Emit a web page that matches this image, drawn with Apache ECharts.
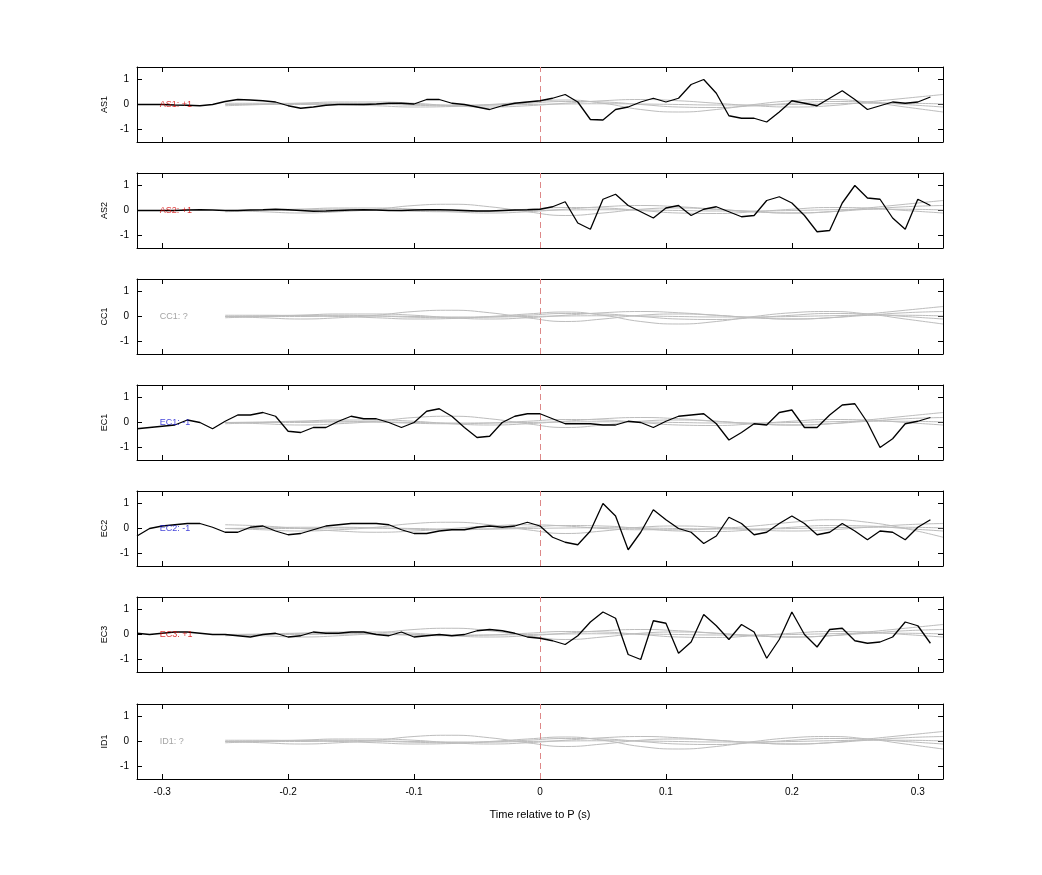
<!DOCTYPE html>
<html style="height: 100%">
<head>
    <meta charset="utf-8">
</head>
<body style="height: 100%; margin: 0; background: #fff">
<div id="container" style="width: 1042px; height: 875px"></div>
<script type="text/javascript" src="https://cdn.jsdelivr.net/npm/echarts@6/dist/echarts.min.js"></script>
<script type="text/javascript">
    // black trace sampled every 0.01 s from -0.32 to 0.31
    var blackT = [];
    for (var k = 0; k < 64; k++) blackT.push(+(-0.32 + k * 0.01).toFixed(2));
    // gray traces sampled every 0.03 s from -0.25 to 0.32
    var grayT = [];
    for (var k = 0; k < 20; k++) grayT.push(+(-0.25 + k * 0.03).toFixed(2));

    var stations = ["AS1", "AS2", "CC1", "EC1", "EC2", "EC3", "ID1"];
    var polarity = ["+1", "+1", "?", "-1", "-1", "+1", "?"];
    var labelColors = ["#d40000", "#d40000", "#8c8c8c", "#1010d0", "#1010d0", "#d40000", "#8c8c8c"];

    var AS1 = [0, 0, 0, -0.02, -0.03, -0.05, 0, 0.12, 0.2, 0.18, 0.15, 0.1, -0.05, -0.15, -0.1, -0.03,
        0, 0, 0, 0.02, 0.05, 0.05, 0.02, 0.2, 0.2, 0.05, 0, -0.1, -0.2, -0.05, 0.05, 0.1,
        0.15, 0.25, 0.4, 0.1, -0.6, -0.62, -0.2, -0.1, 0.1, 0.25, 0.1, 0.25, 0.8, 1.0, 0.45, -0.45,
        -0.55, -0.55, -0.7, -0.3, 0.15, 0.05, -0.05, 0.25, 0.55, 0.2, -0.2, -0.05, 0.1, 0.05, 0.1, 0.3];
    var AS2 = [0, 0, 0, 0, 0.02, 0.03, 0.02, 0, 0, 0.02, 0.03, 0.05, 0.03, 0, -0.03, -0.02,
        0, 0.02, 0.03, 0.02, 0, 0, 0.02, 0.03, 0.03, 0.02, 0, -0.02, -0.02, 0, 0.02, 0.03,
        0.05, 0.15, 0.35, -0.5, -0.75, 0.45, 0.65, 0.2, -0.05, -0.3, 0.1, 0.2, -0.2, 0.05, 0.15, -0.05,
        -0.25, -0.2, 0.4, 0.55, 0.3, -0.2, -0.85, -0.8, 0.3, 1.0, 0.5, 0.45, -0.3, -0.75, 0.45, 0.2];
    var EC1 = [-0.25, -0.2, -0.15, -0.1, 0.1, 0, -0.25, 0.05, 0.3, 0.3, 0.4, 0.25, -0.35, -0.4, -0.2, -0.2,
        0.05, 0.25, 0.15, 0.15, 0, -0.2, 0, 0.45, 0.55, 0.25, -0.2, -0.6, -0.55, 0, 0.25, 0.35,
        0.35, 0.15, -0.05, -0.05, -0.05, -0.1, -0.1, 0.05, 0, -0.2, 0.05, 0.25, 0.3, 0.35, -0.05, -0.7,
        -0.4, -0.05, -0.1, 0.4, 0.5, -0.2, -0.2, 0.3, 0.7, 0.75, 0, -1.0, -0.65, -0.05, 0.05, 0.2];
    var EC2 = [-0.3, 0, 0.1, 0.15, 0.2, 0.2, 0.05, -0.15, -0.15, 0.05, 0.1, -0.1, -0.25, -0.2, -0.05, 0.1,
        0.15, 0.2, 0.2, 0.2, 0.15, -0.05, -0.2, -0.2, -0.1, -0.05, -0.05, 0.05, 0.1, 0.05, 0.1, 0.25,
        0.1, -0.35, -0.55, -0.65, -0.1, 1.0, 0.5, -0.85, -0.15, 0.75, 0.35, 0, -0.15, -0.6, -0.3, 0.45,
        0.2, -0.25, -0.15, 0.2, 0.5, 0.2, -0.25, -0.15, 0.2, -0.1, -0.45, -0.1, -0.15, -0.45, 0.05, 0.35];
    var EC3 = [0.05, 0, 0.05, 0.1, 0.1, 0.05, 0, 0, -0.05, -0.1, 0, 0.05, -0.1, -0.05, 0.1, 0.05,
        0.05, 0.1, 0.1, 0, -0.05, 0.1, -0.1, -0.05, 0, -0.05, 0, 0.15, 0.2, 0.15, 0.05, -0.1,
        -0.15, -0.25, -0.4, -0.05, 0.5, 0.9, 0.65, -0.8, -1.0, 0.55, 0.45, -0.75, -0.3, 0.8, 0.35, -0.2,
        0.4, 0.1, -0.95, -0.2, 0.9, 0, -0.5, 0.2, 0.25, -0.25, -0.35, -0.3, -0.1, 0.5, 0.35, -0.35];
    var blackData = [AS1, AS2, null, EC1, EC2, EC3, null];

    var g0 = [0, 0.02, 0.05, 0.05, 0.02, -0.03, -0.05, -0.02, 0.05, 0.12, 0.1, 0, -0.1, -0.12, -0.05, 0.05, 0.12, 0.1, 0, -0.1];
    var g1 = [0.05, 0.05, 0.03, 0, -0.05, -0.1, -0.08, 0, 0.1, 0.18, 0.05, -0.2, -0.3, -0.2, 0, 0.15, 0.2, 0.1, -0.1, -0.3];
    var g2 = [-0.05, 0, 0.05, 0.1, 0.1, 0.05, -0.05, -0.1, -0.05, 0.05, 0.15, 0.2, 0.15, 0.05, -0.05, -0.1, -0.05, 0.1, 0.25, 0.4];
    var g3 = [0, 0, 0, 0.02, 0.02, 0, -0.02, -0.02, 0, 0.02, 0.03, 0.02, 0, -0.02, -0.02, 0, 0.03, 0.05, 0.05, 0.02];
    var g4 = [0.15, 0.1, 0, -0.1, -0.15, -0.1, 0, 0.1, 0.15, 0.1, 0, -0.05, -0.05, 0, 0.1, 0.25, 0.35, 0.25, 0, -0.35];
    var g5 = [0, -0.05, -0.1, -0.05, 0.05, 0.2, 0.25, 0.15, -0.05, -0.2, -0.1, 0.05, 0.1, 0.05, -0.05, -0.1, -0.05, 0.05, 0.15, 0.2];
    var grayData = [[g0, g1, g2, g3], [g3, g0, g2, g5], [g0, g1, g2, g3, g5], [g3, g0, g2, g5],
        [g4, g3, g0, g5], [g5, g0, g3, g2], [g1, g5, g3, g0, g2]];

    var xTicks = [-0.3, -0.2, -0.1, 0, 0.1, 0.2, 0.3];
    var yTicks = [-1, 0, 1];

    var font = "Liberation Sans";
    var tops = [67, 173, 279, 385, 491, 597, 704];
    var grids = [], xAxes = [], yAxes = [], series = [];

    function pairs(t, v) {
        return v.map(function (y, i) { return [t[i], y]; });
    }

    stations.forEach(function (name, i) {
        var last = i === stations.length - 1;
        grids.push({left: 137, width: 806, top: tops[i], height: 75});
        var axLine = {show: true, onZero: false, lineStyle: {color: '#000', width: 1}};
        var common = {type: 'value', gridIndex: i, min: -0.32, max: 0.32, splitLine: {show: false},
            axisLine: axLine, axisTick: {inside: true, length: 5, customValues: xTicks, lineStyle: {color: '#000'}}};
        xAxes.push(Object.assign({}, common, {
            position: 'bottom',
            axisLabel: {show: last, customValues: xTicks, color: '#000', fontFamily: font, fontSize: 10, margin: 8},
            name: last ? 'Time relative to P (s)' : '', nameLocation: 'middle', nameGap: 30,
            nameTextStyle: {color: '#000', fontFamily: font, fontSize: 11}
        }));
        xAxes.push(Object.assign({}, common, {position: 'top', axisLabel: {show: false}}));
        var ycommon = {type: 'value', gridIndex: i, min: -1.5, max: 1.5, splitLine: {show: false},
            axisLine: axLine, axisTick: {inside: true, length: 5, customValues: yTicks, lineStyle: {color: '#000'}}};
        yAxes.push(Object.assign({}, ycommon, {
            position: 'left',
            axisLabel: {customValues: yTicks, color: '#000', fontFamily: font, fontSize: 10, margin: 8},
            name: name, nameLocation: 'middle', nameGap: 28, nameRotate: 90,
            nameTextStyle: {color: '#000', fontFamily: font, fontSize: 9}
        }));
        yAxes.push(Object.assign({}, ycommon, {position: 'right', axisLabel: {show: false}}));

        grayData[i].forEach(function (g) {
            series.push({type: 'line', xAxisIndex: 2 * i, yAxisIndex: 2 * i, data: pairs(grayT, g),
                smooth: 0.5, showSymbol: false, lineStyle: {color: '#bdbdbd', width: 1}, silent: true});
        });
        if (blackData[i]) {
            series.push({type: 'line', xAxisIndex: 2 * i, yAxisIndex: 2 * i, data: pairs(blackT, blackData[i]),
                showSymbol: false, lineStyle: {color: '#000', width: 1.3}, silent: true, z: 5});
        }
        // dashed line at P arrival + station label
        series.push({
            type: 'scatter', xAxisIndex: 2 * i, yAxisIndex: 2 * i, symbolSize: 0, z: 6,
            data: [[-0.302, 0]],
            label: {show: true, position: 'right', distance: 0, formatter: name + ': ' + polarity[i],
                color: labelColors[i], fontFamily: font, fontSize: 9},
            markLine: {silent: true, symbol: 'none', label: {show: false},
                lineStyle: {color: '#d88', type: [6, 4], width: 1}, data: [{xAxis: 0}]}
        });
    });

    var myChart = echarts.init(document.getElementById('container'));
    myChart.setOption({
        animation: false,
        backgroundColor: '#fff',
        grid: grids,
        xAxis: xAxes,
        yAxis: yAxes,
        series: series
    });
</script>
</body>
</html>
